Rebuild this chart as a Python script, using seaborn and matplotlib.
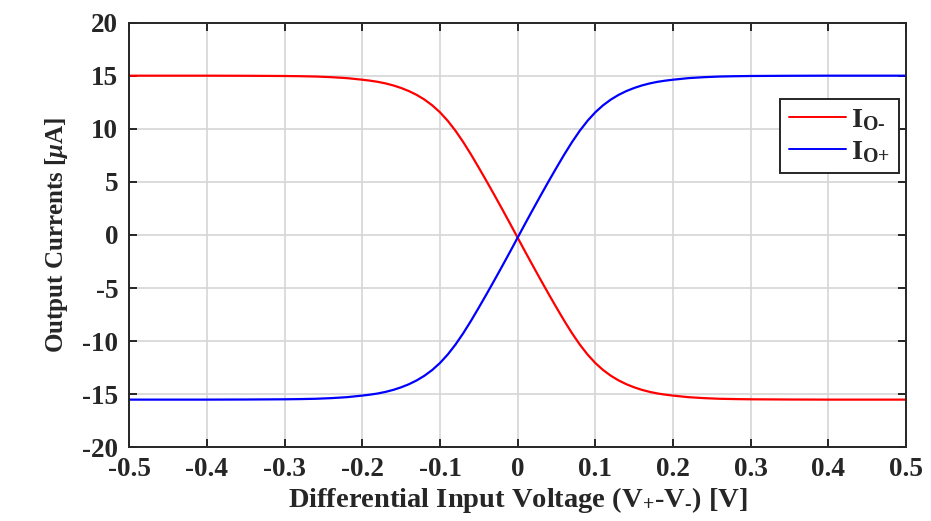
import matplotlib
matplotlib.use("Agg")
import matplotlib.pyplot as plt
import seaborn as sns
import pandas as pd
from matplotlib.ticker import FixedLocator, FuncFormatter

# Differential input voltage sweep [V]
v_diff = [-0.50, -0.45, -0.40, -0.35, -0.30, -0.28, -0.26, -0.24, -0.22, -0.20,
          -0.19, -0.18, -0.17, -0.16, -0.15, -0.14, -0.13, -0.12, -0.11, -0.10,
          -0.09, -0.08, -0.07, -0.06, -0.05, -0.04, -0.03, -0.02, -0.01, 0.00,
          0.01, 0.02, 0.03, 0.04, 0.05, 0.06, 0.07, 0.08, 0.09, 0.10,
          0.11, 0.12, 0.13, 0.14, 0.15, 0.16, 0.17, 0.18, 0.19, 0.20,
          0.22, 0.24, 0.26, 0.28, 0.30, 0.35, 0.40, 0.45, 0.50]

# Output current I_O- [uA]
i_o_minus = [15.01, 15.01, 15.01, 15.00, 14.98, 14.96, 14.93, 14.87, 14.78, 14.63,
             14.54, 14.43, 14.28, 14.09, 13.85, 13.56, 13.20, 12.76, 12.22, 11.56,
             10.76, 9.82, 8.75, 7.58, 6.34, 5.07, 3.77, 2.45, 1.11, -0.25,
             -1.61, -2.95, -4.27, -5.57, -6.84, -8.08, -9.25, -10.32, -11.26, -12.06,
             -12.72, -13.26, -13.70, -14.06, -14.35, -14.59, -14.78, -14.93, -15.04, -15.13,
             -15.28, -15.37, -15.43, -15.46, -15.48, -15.50, -15.51, -15.51, -15.51]

# Output current I_O+ [uA]
i_o_plus = [-15.51, -15.51, -15.51, -15.50, -15.48, -15.46, -15.43, -15.37, -15.28, -15.13,
            -15.04, -14.93, -14.78, -14.59, -14.35, -14.06, -13.70, -13.26, -12.72, -12.06,
            -11.26, -10.32, -9.25, -8.08, -6.84, -5.57, -4.27, -2.95, -1.61, -0.25,
            1.11, 2.45, 3.77, 5.07, 6.34, 7.58, 8.75, 9.82, 10.76, 11.56,
            12.22, 12.76, 13.20, 13.56, 13.85, 14.09, 14.28, 14.43, 14.54, 14.63,
            14.78, 14.87, 14.93, 14.96, 14.98, 15.00, 15.01, 15.01, 15.01]

series_labels = [r"I$_{\mathrm{O}\text{-}}$", r"I$_{\mathrm{O}\text{+}}$"]
series_colors = ["#ff0000", "#0000ff"]

x_ticks = [-0.5, -0.4, -0.3, -0.2, -0.1, 0.0, 0.1, 0.2, 0.3, 0.4, 0.5]
y_ticks = [-20, -15, -10, -5, 0, 5, 10, 15, 20]

sns.set_style("ticks")
plt.rcParams.update({
    "font.family": ["Liberation Serif", "DejaVu Serif"],
    "font.weight": "bold",
    "mathtext.fontset": "custom",
    "mathtext.rm": "Liberation Serif:bold",
    "mathtext.bf": "Liberation Serif:bold",
    "mathtext.it": "Liberation Serif:italic",
    "axes.unicode_minus": False,
})

df = pd.concat([
    pd.DataFrame({"v": v_diff, "i": i_o_minus, "series": series_labels[0]}),
    pd.DataFrame({"v": v_diff, "i": i_o_plus, "series": series_labels[1]}),
], ignore_index=True)

fig = plt.figure(figsize=(9.31, 5.21), dpi=100)
ax = fig.add_axes([0.1389, 0.1415, 0.9731 - 0.1389, 0.9564 - 0.1415])

sns.lineplot(data=df, x="v", y="i", hue="series", palette=series_colors,
             linewidth=1.6, ax=ax, sort=False, estimator=None)

ax.set_xlim(-0.5, 0.5)
ax.set_ylim(-20, 20)
ax.xaxis.set_major_locator(FixedLocator(x_ticks))
ax.yaxis.set_major_locator(FixedLocator(y_ticks))
ax.xaxis.set_major_formatter(FuncFormatter(lambda v, p: "0" if abs(v) < 1e-9 else f"{v:g}"))
ax.yaxis.set_major_formatter(FuncFormatter(lambda v, p: f"{v:g}"))

ax.grid(True, color="#d6d6d6", linewidth=1.2)
ax.set_axisbelow(True)
for side in ["left", "right", "top", "bottom"]:
    ax.spines[side].set_visible(True)
    ax.spines[side].set_color("#262626")
    ax.spines[side].set_linewidth(1.4)
ax.tick_params(direction="in", length=6, width=1.4, color="#262626",
               top=True, right=True, labelsize=19.5, labelcolor="#262626")
ax.tick_params(axis="x", pad=7)
ax.tick_params(axis="y", pad=8)
for lab in ax.get_xticklabels() + ax.get_yticklabels():
    lab.set_fontweight("bold")

ax.set_xlabel(r"Differential Input Voltage (V$_{+}$-V$_{\text{-}}$) [V]",
              fontsize=20.5, fontweight="bold", color="#262626", labelpad=2)
ax.set_ylabel(r"Output Currents [$\mu$A]", fontsize=18, fontweight="bold",
              color="#262626", labelpad=9)

leg = ax.legend(loc="upper right", bbox_to_anchor=(0.991, 0.821), borderaxespad=0,
                frameon=True, fancybox=False, fontsize=20.5, handlelength=2.0,
                handletextpad=0.2, borderpad=0.3, labelspacing=0.2)
leg.get_frame().set_edgecolor("#262626")
leg.get_frame().set_linewidth(1.4)
leg.get_frame().set_alpha(1)
for t in leg.get_texts():
    t.set_fontweight("bold")
for h in leg.get_lines():
    h.set_linewidth(1.4)

fig.savefig("out.png", dpi=100, facecolor="white")
